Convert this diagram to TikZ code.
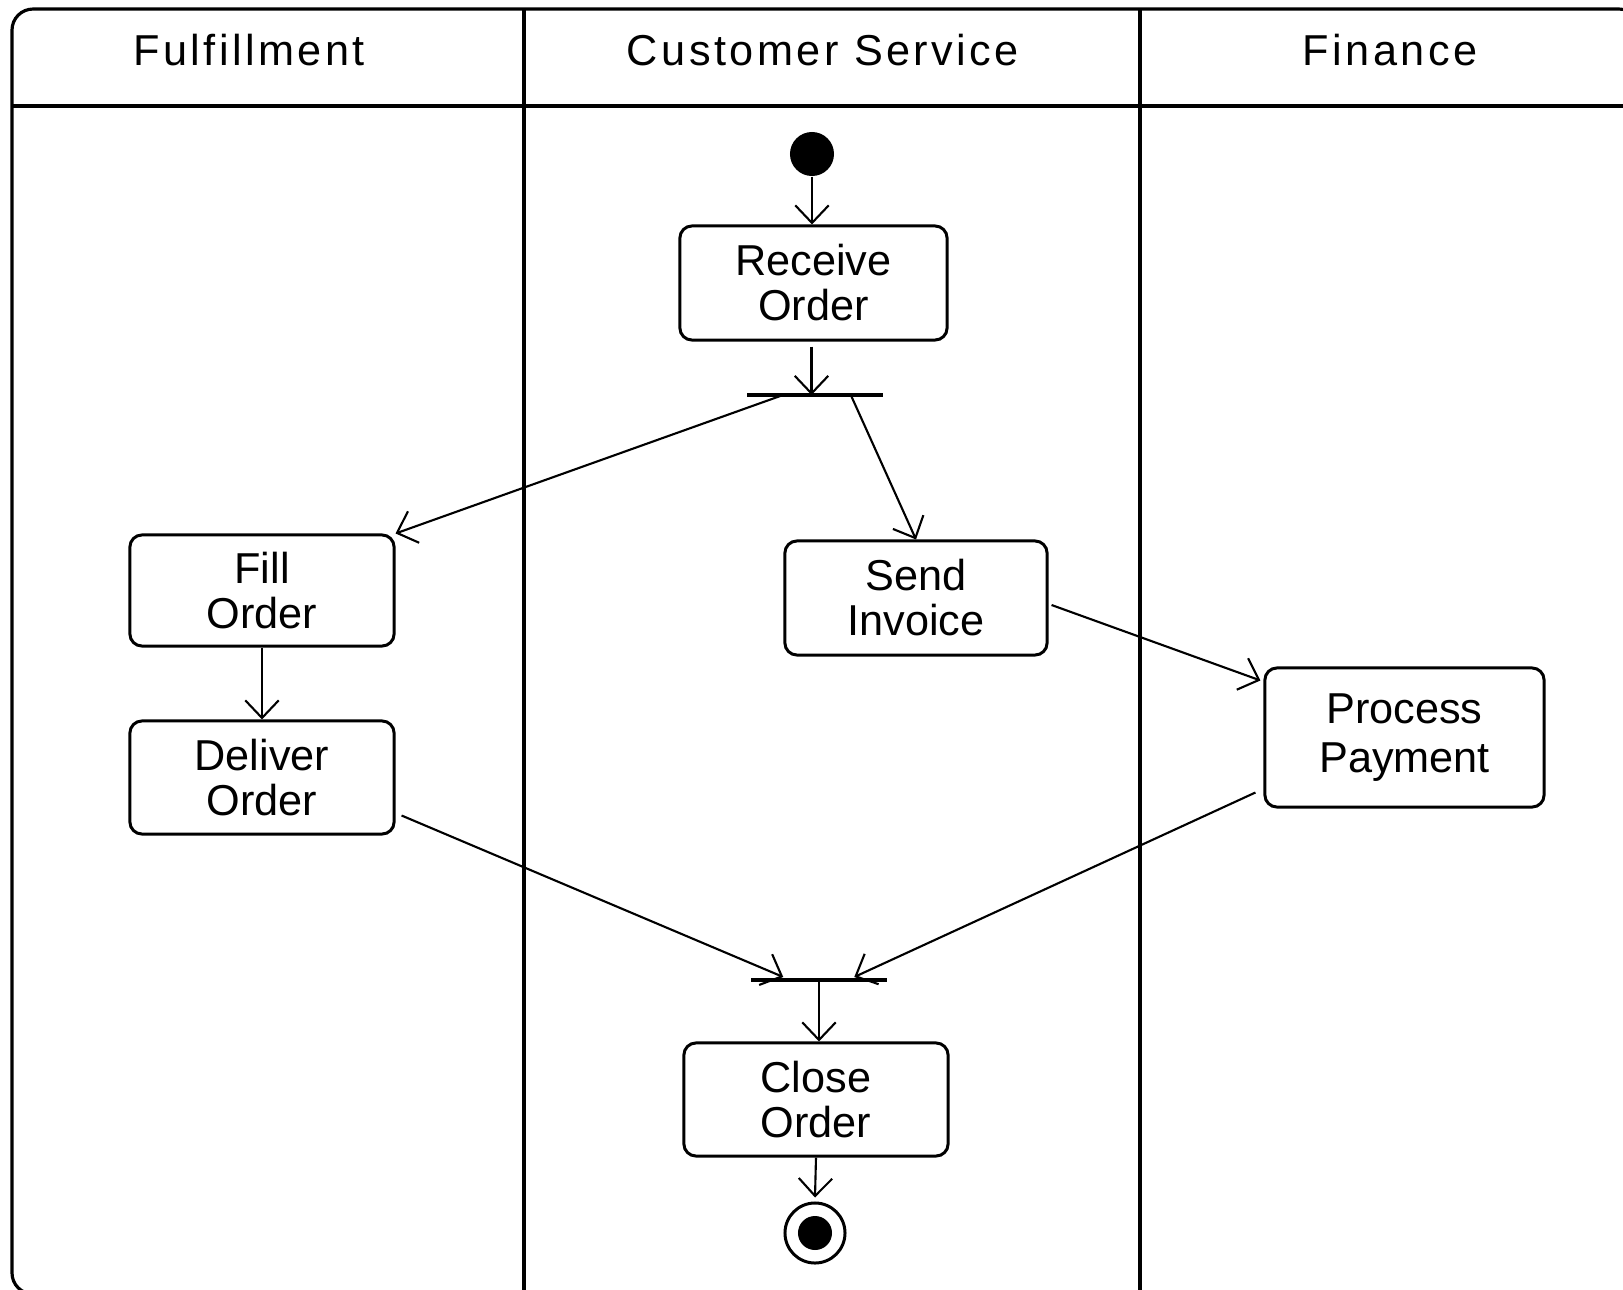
\documentclass[tikz,border=0pt]{standalone}
\usepackage{fontspec}
\setmainfont{Liberation Sans}
\newfontfamily\headfont[LetterSpace=8]{Liberation Sans}
\usetikzlibrary{arrows.meta,calc}
\tikzset{
  frameline/.style={line width=0.9pt},
  activity/.style={draw, line width=0.85pt, rounded corners=3.4pt, align=center,
    inner sep=0pt, font=\fontsize{12.3}{12.8}\selectfont},
  lanehead/.style={font=\headfont\fontsize{12.3}{13}\selectfont, inner sep=0pt},
  flow/.style={line width=0.6pt, -{Straight Barb[length=5pt,width=9.5pt,line width=0.6pt]}},
  barnode/.style={inner sep=0pt, minimum height=0pt, draw=none},
  barline/.style={line width=0.95pt},
}
\begin{document}
\begin{tikzpicture}[x=0.01cm,y=-0.01cm]
\useasboundingbox (0,0) rectangle (1623,1290);
\clip (0,0) rectangle (1623,1290);
% frame and swimlanes
\draw[frameline, rounded corners=6pt] (12,9) rectangle (1640,1294);
\draw[frameline] (12,106) -- (1640,106);
\draw[frameline] (524,9) -- (524,1294);
\draw[frameline] (1140,9) -- (1140,1294);
\node[lanehead] (h1) at (249,50) {Fulfillment};
\node[lanehead] (h2) at (823,50) {Customer Service};
\node[lanehead] (h3) at (1390,50) {Finance};
% nodes
\node[circle, fill, inner sep=0pt, minimum size=0.44cm] (init) at (812,154) {};
\node[activity, minimum width=2.67cm, minimum height=1.14cm] (recv) at (813.5,283) {Receive\\Order};
\node[barnode, minimum width=1.34cm] (fork) at (815,395) {};
\node[activity, minimum width=2.64cm, minimum height=1.11cm] (fill) at (262,590.5) {Fill\\Order};
\node[activity, minimum width=2.62cm, minimum height=1.14cm] (send) at (916,598) {Send\\Invoice};
\node[activity, minimum width=2.64cm, minimum height=1.13cm] (deliv) at (262,777.5) {Deliver\\Order};
\node[activity, minimum width=2.79cm, minimum height=1.39cm, font=\fontsize{12.3}{13.8}\selectfont] (pay) at (1404.5,737.5) {Process\\Payment};
\node[barnode, minimum width=1.34cm] (join) at (819,980) {};
\node[activity, minimum width=2.64cm, minimum height=1.13cm] (close) at (816,1099.5) {Close\\Order};
\node[circle, draw, line width=0.85pt, inner sep=0pt, minimum size=0.6cm] (final) at (815,1233) {};
\node[circle, fill, inner sep=0pt, minimum size=0.34cm] (finalin) at (final.center) {};
% bars
\draw[barline] (fork.west) -- (fork.east);
\draw[barline] (join.west) -- (join.east);
% connectors
\draw[flow] (init) -- (init |- recv.north);
\draw[flow] ($(recv.south)+(-2,5)$) -- ($(recv.south |- fork.center)+(-2,0)$);
\draw[flow] ($(fork.west)+(33,1)$) -- (fill.north east);
\draw[flow] ($(fork.west)+(104,1)$) -- (send.north);
\draw[flow] (fill.south) -- (deliv.north);
\draw[flow] ($(send.east)+(3,7)$) -- ($(pay.north west)+(-3,14)$);
\draw[flow] ($(deliv.east)+(6,38)$) -- ($(join.west)+(32,-3)$);
\draw[flow] ($(pay.west)+(-8,55)$) -- ($(join.west)+(103,-3)$);
\draw[flow] (join.center) -- (join.center |- close.north);
\draw[flow] (close.south) -- ($(final.north)+(0,-4)$);
\end{tikzpicture}
\end{document}
